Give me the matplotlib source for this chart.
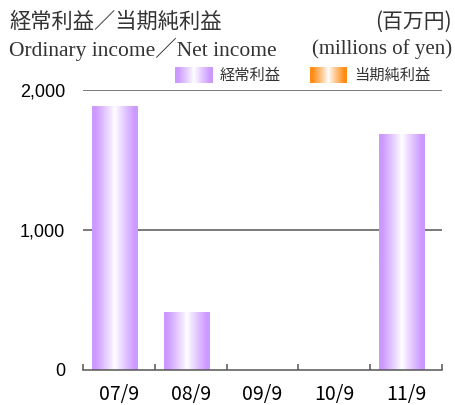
#! /bin/env python

# Ordinary income / net income bars with gradient fill.

import numpy as np
import matplotlib
matplotlib.use("Agg")
import matplotlib.pyplot as plt

categories = ["07/9", "08/9", "09/9", "10/9", "11/9"]
ordinary_income = [1880, 410, 0, 0, 1680]
y_ticks = [0, 1000, 2000]
y_tick_labels = ["0", "1,000", "2,000"]

W, H = 456, 405
JP = ["Noto Sans CJK JP", "DejaVu Sans"]
SERIF = ["Liberation Serif", "Noto Sans CJK JP"]


def gradient(edge, n=64):
    u = np.linspace(0, 1, n)
    t = np.clip(np.abs(2 * u - 1) * 1.15, 0, 1) ** 0.9
    edge = np.array(edge) / 255.0
    rgb = 1 - (1 - edge)[None, :] * t[:, None]
    return rgb[None, :, :]


PURPLE = (204, 153, 255)
ORANGE = (255, 140, 20)

fig = plt.figure(figsize=(W / 100, H / 100), dpi=100)
ax = fig.add_axes([83 / W, 1 - 370 / H, (442 - 83) / W, (370 - 90) / H])

bar_w = 0.64
shift = -0.056
for i, v in enumerate(ordinary_income):
    if v <= 0:
        continue
    x0 = i + shift - bar_w / 2
    ax.imshow(gradient(PURPLE), extent=(x0, x0 + bar_w, 0, v),
              aspect="auto", interpolation="bilinear", zorder=3)

for y in y_ticks[1:]:
    ax.axhline(y, color="#555555", lw=1.1, zorder=1)

ax.set_xlim(-0.5, len(categories) - 0.5)
ax.set_ylim(0, 2000)
ax.set_yticks(y_ticks)
ax.set_yticklabels(y_tick_labels, family="Liberation Sans", fontsize=13)
ax.tick_params(axis="y", length=0, pad=13)

ax.set_xticks(np.arange(-0.5, len(categories)), minor=False)
ax.set_xticklabels([])
ax.set_xticks(np.arange(len(categories)), minor=True)
ax.set_xticklabels(categories, minor=True, family=JP, fontsize=14)
ax.tick_params(axis="x", which="major", direction="in", length=4.5,
               color="#555555", width=1.1)
ax.tick_params(axis="x", which="minor", length=0, pad=10)

for s in ["left", "right", "top"]:
    ax.spines[s].set_visible(False)
ax.spines["bottom"].set_color("#555555")
ax.spines["bottom"].set_linewidth(1.1)
ax.spines["bottom"].set_zorder(4)

# legend drawn in pixel coords
ov = fig.add_axes([0, 0, 1, 1])
ov.set_xlim(0, W)
ov.set_ylim(H, 0)
ov.axis("off")
ov.imshow(gradient(PURPLE), extent=(175, 213, 83, 67), aspect="auto",
          interpolation="bilinear")
ov.imshow(gradient(ORANGE), extent=(310, 347, 83, 67), aspect="auto",
          interpolation="bilinear")
ov.set_xlim(0, W)
ov.set_ylim(H, 0)
ov.text(220, 75, "経常利益", family=JP, fontsize=11, va="center", color="#333333")
ov.text(354, 75, "当期純利益", family=JP, fontsize=11, va="center", color="#333333")

ov.text(9, 22, "経常利益／当期純利益", family=JP, fontsize=15.3, va="center",
        color="#333333")
ov.text(452, 22, "(百万円)", family=JP, fontsize=15, va="center", ha="right",
        color="#333333")
ov.text(9, 49, "Ordinary income／Net income", family=SERIF, fontsize=15.5,
        va="center", color="#333333")
ov.text(452, 49, "(millions of yen)", family=SERIF, fontsize=15, va="center",
        ha="right", color="#333333")

fig.savefig("out.png", dpi=100)
